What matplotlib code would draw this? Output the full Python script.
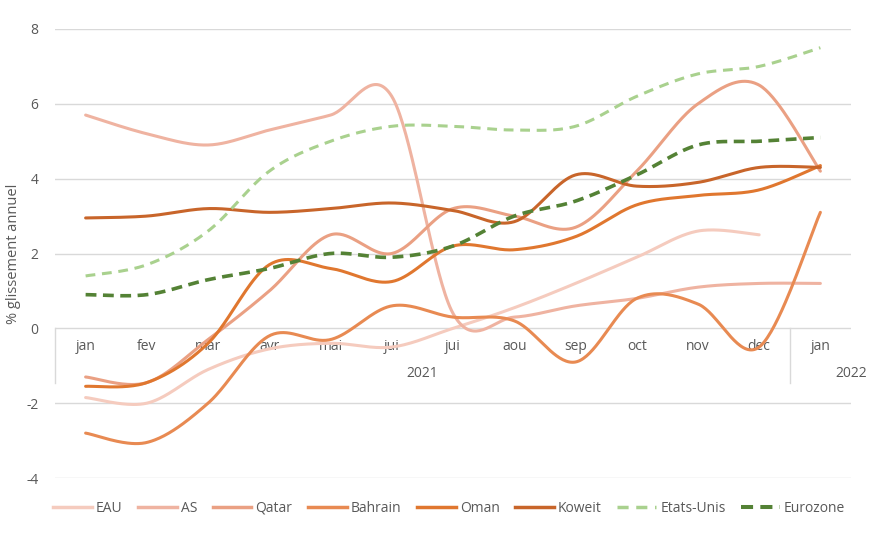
import numpy as np
import matplotlib
matplotlib.use("Agg")
import matplotlib.pyplot as plt
from matplotlib.lines import Line2D

months = ["jan", "fev", "mar", "avr", "mai", "jui", "jui", "aou", "sep", "oct", "nov", "dec", "jan"]
years = ["2021", "2022"]

eau = [-1.85, -2.0, -1.1, -0.55, -0.4, -0.5, 0.0, 0.55, 1.2, 1.9, 2.6, 2.5]
as_ = [5.7, 5.2, 4.9, 5.3, 5.7, 6.2, 0.4, 0.3, 0.6, 0.8, 1.1, 1.2, 1.2]
qatar = [-1.3, -1.45, -0.3, 1.0, 2.5, 2.0, 3.2, 3.0, 2.7, 4.2, 6.0, 6.5, 4.2]
bahrain = [-2.8, -3.05, -2.0, -0.2, -0.3, 0.6, 0.3, 0.2, -0.9, 0.8, 0.65, -0.5, 3.1]
oman = [-1.55, -1.45, -0.4, 1.7, 1.6, 1.25, 2.2, 2.1, 2.45, 3.3, 3.55, 3.7, 4.35]
koweit = [2.95, 3.0, 3.2, 3.1, 3.2, 3.35, 3.15, 2.85, 4.1, 3.8, 3.9, 4.3, 4.3]
usa = [1.4, 1.7, 2.6, 4.2, 5.0, 5.4, 5.4, 5.3, 5.4, 6.2, 6.8, 7.0, 7.5]
euro = [0.9, 0.9, 1.3, 1.6, 2.0, 1.9, 2.2, 3.0, 3.4, 4.1, 4.9, 5.0, 5.1]

series = [
    ("EAU", eau, "#F5CBBE", "-", 2.2),
    ("AS", as_, "#EFB3A1", "-", 2.2),
    ("Qatar", qatar, "#EAA083", "-", 2.2),
    ("Bahrain", bahrain, "#E88A52", "-", 2.2),
    ("Oman", oman, "#E0772F", "-", 2.2),
    ("Koweit", koweit, "#C8652A", "-", 2.2),
    ("Etats-Unis", usa, "#A9D18E", (0, (3.2, 2.2)), 2.2),
    ("Eurozone", euro, "#548235", (0, (3.0, 1.8)), 2.6),
]


def smooth(xs, ys, n=40):
    xs = np.asarray(xs, float)
    ys = np.asarray(ys, float)
    P = np.column_stack([xs, ys])
    m = len(P)
    out = []
    for i in range(m - 1):
        p0 = P[i - 1] if i > 0 else P[i]
        p1 = P[i]
        p2 = P[i + 1]
        p3 = P[i + 2] if i + 2 < m else P[i + 1]
        b1 = p1 + (p2 - p0) / 6.0
        b2 = p2 - (p3 - p1) / 6.0
        t = np.linspace(0, 1, n)[:, None]
        seg = ((1 - t) ** 3) * p1 + 3 * ((1 - t) ** 2) * t * b1 + 3 * (1 - t) * t ** 2 * b2 + t ** 3 * p2
        if i > 0:
            seg = seg[1:]
        out.append(seg)
    out = np.vstack(out)
    return out[:, 0], out[:, 1]


plt.rcParams['font.family'] = ['Open Sans', 'DejaVu Sans']
txt = "#595959"
grid = "#D9D9D9"

fig = plt.figure(figsize=(8.76, 5.42), dpi=100)
ax = fig.add_axes([55 / 876, 1 - 478 / 542, (851 - 55) / 876, (478 - 29) / 542])
ax.set_xlim(-0.5, 12.5)
ax.set_ylim(-4, 8)
ax.set_yticks([-4, -2, 0, 2, 4, 6, 8])
ax.set_yticklabels(["-4", "-2", "0", "2", "4", "6", "8"], color=txt, fontsize=10)
ax.tick_params(axis='y', length=0, pad=12)
ax.set_xticks([])
for s in ax.spines.values():
    s.set_visible(False)
for v in [-4, -2, 0, 2, 4, 6, 8]:
    ax.axhline(v, color=grid, lw=1.0, zorder=0)

# category axis labels (axis crosses at 0)
for i, m in enumerate(months):
    ax.text(i, -0.48, m, ha='center', va='center', color=txt, fontsize=10, zorder=1)
ax.text(5.5, -1.2, years[0], ha='center', va='center', color=txt, fontsize=10)
ax.text(12.5, -1.2, years[1], ha='center', va='center', color=txt, fontsize=10, clip_on=False)
for xv in [-0.5, 11.5]:
    ax.plot([xv, xv], [0, -1.47], color=grid, lw=1.0, zorder=0, clip_on=False)

ax.set_ylabel("% glissement annuel", color=txt, fontsize=10.5, labelpad=4)

handles = []
for name, vals, col, ls, lw in series:
    xs = np.arange(len(vals))
    sx, sy = smooth(xs, vals)
    ax.plot(sx, sy, color=col, lw=lw, ls=ls, solid_capstyle='round', zorder=3)
    handles.append(Line2D([], [], color=col, lw=lw + 0.3, ls=ls))

fig.legend(handles, [s[0] for s in series], ncol=8, loc='center',
           bbox_to_anchor=(449 / 876, 1 - 508 / 542), frameon=False,
           fontsize=10, handlelength=2.8, handletextpad=0.3, columnspacing=1.1,
           labelcolor=txt)

fig.savefig("out.png", dpi=100)
